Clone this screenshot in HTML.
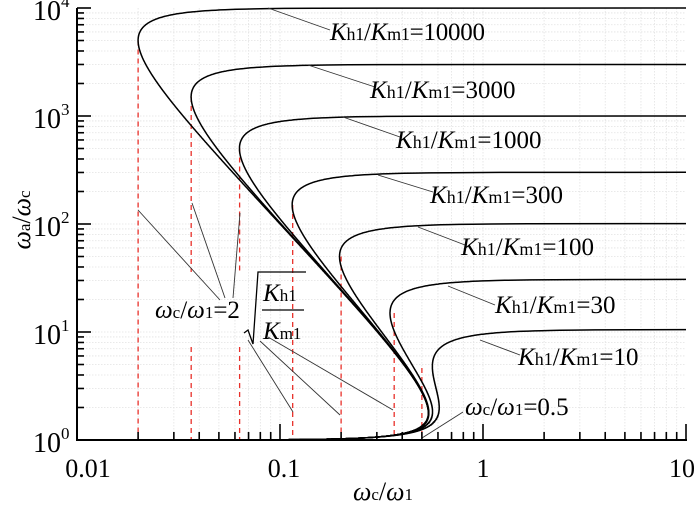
<!DOCTYPE html>
<html><head><meta charset="utf-8">
<style>
html,body{margin:0;padding:0;background:#fff;}
svg{display:block;}
text{font-family:"Liberation Serif",serif;fill:#000;}
</style></head>
<body>
<svg id="s" width="700" height="505" viewBox="0 0 700 505" xmlns="http://www.w3.org/2000/svg">
<g id="grid" stroke="#e2e2e2" stroke-width="0.8" stroke-dasharray="1.5,1.5"></g>
<g id="dash" stroke="#e8302a" stroke-width="1.3" stroke-dasharray="5,4" fill="none"></g>
<g id="curves" stroke="#000" stroke-width="1.5" fill="none"></g>
<g id="lead" stroke="#333" stroke-width="0.9">
<line x1="268" y1="8" x2="330" y2="30"/>
<line x1="308" y1="65" x2="375" y2="87"/>
<line x1="343" y1="117" x2="400" y2="137"/>
<line x1="378" y1="175" x2="433" y2="192"/>
<line x1="418" y1="227" x2="465" y2="245"/>
<line x1="448" y1="286" x2="495" y2="305"/>
<line x1="480" y1="340" x2="520" y2="355"/>
<line x1="422" y1="438" x2="463" y2="412"/>
<line x1="138" y1="210" x2="220" y2="300"/>
<line x1="192" y1="203" x2="225" y2="298"/>
<line x1="240" y1="213" x2="233" y2="298"/>
<line x1="248" y1="340" x2="293" y2="412"/>
<line x1="260" y1="341" x2="340" y2="415"/>
<line x1="268" y1="337" x2="393" y2="410"/>
</g>
<g id="axes" stroke="#000" stroke-width="2" fill="none"></g>
<g font-size="25">
<text x="330" y="40" textLength="155"><tspan font-style="italic">K</tspan><tspan font-size="18">h1</tspan>/<tspan font-style="italic">K</tspan><tspan font-size="18">m1</tspan>=10000</text>
<text x="370" y="98"><tspan font-style="italic">K</tspan><tspan font-size="18">h1</tspan>/<tspan font-style="italic">K</tspan><tspan font-size="18">m1</tspan>=3000</text>
<text x="396" y="148"><tspan font-style="italic">K</tspan><tspan font-size="18">h1</tspan>/<tspan font-style="italic">K</tspan><tspan font-size="18">m1</tspan>=1000</text>
<text x="430" y="203"><tspan font-style="italic">K</tspan><tspan font-size="18">h1</tspan>/<tspan font-style="italic">K</tspan><tspan font-size="18">m1</tspan>=300</text>
<text x="461" y="255"><tspan font-style="italic">K</tspan><tspan font-size="18">h1</tspan>/<tspan font-style="italic">K</tspan><tspan font-size="18">m1</tspan>=100</text>
<text x="495" y="313"><tspan font-style="italic">K</tspan><tspan font-size="18">h1</tspan>/<tspan font-style="italic">K</tspan><tspan font-size="18">m1</tspan>=30</text>
<text x="518" y="365"><tspan font-style="italic">K</tspan><tspan font-size="18">h1</tspan>/<tspan font-style="italic">K</tspan><tspan font-size="18">m1</tspan>=10</text>
<text x="465" y="415"><tspan font-style="italic">ω</tspan><tspan font-size="17">c</tspan>/<tspan font-style="italic">ω</tspan><tspan font-size="17">1</tspan>=0.5</text>
<text x="155" y="318"><tspan font-style="italic">ω</tspan><tspan font-size="17">c</tspan>/<tspan font-style="italic">ω</tspan><tspan font-size="17">1</tspan>=2</text>
<text x="263" y="301"><tspan font-style="italic">K</tspan><tspan font-size="17">h1</tspan></text>
<text x="263" y="339"><tspan font-style="italic">K</tspan><tspan font-size="17">m1</tspan></text>
</g>
<polyline points="244,333 248,330 253,344 258,272 306,272" stroke="#000" stroke-width="1.3" fill="none"/>
<line x1="262" y1="310" x2="304" y2="310" stroke="#000" stroke-width="1.2"/>
<g font-size="26" text-anchor="middle">
<text x="88" y="477">0.01</text>
<text x="284" y="477">0.1</text>
<text x="483" y="477">1</text>
<text x="682" y="477">10</text>
<text x="383" y="500"><tspan font-style="italic">ω</tspan><tspan font-size="17">c</tspan>/<tspan font-style="italic">ω</tspan><tspan font-size="17">1</tspan></text>
</g>
<g font-size="28" id="ylab"></g>
<text transform="translate(30,220) rotate(-90)" font-size="26" text-anchor="middle"><tspan font-style="italic">ω</tspan><tspan font-size="17">a</tspan>/<tspan font-style="italic">ω</tspan><tspan font-size="17">c</tspan></text>
</svg>
<script>
var NS="http://www.w3.org/2000/svg";
var X0=77,D=203,Y0=440,DY=108;
function px(x){return X0+D*(Math.log10(x)+2);}
function py(y){return Y0-DY*Math.log10(y);}
function el(g,t,a){var e=document.createElementNS(NS,t);for(var k in a)e.setAttribute(k,a[k]);document.getElementById(g).appendChild(e);return e;}
for(var d=-2;d<1;d++)for(var m=1;m<10;m++){var x=px(m*Math.pow(10,d));el("grid","line",{x1:x,y1:8,x2:x,y2:440});}
for(var d=0;d<4;d++)for(var m=1;m<10;m++){var y=py(m*Math.pow(10,d));el("grid","line",{x1:77,y1:y,x2:686,y2:y});}
el("axes","path",{d:"M77,8 L77,440 L687,440"});
for(var d=-2;d<=1;d++)for(var m=1;m<10;m++){if(d==1&&m>1)break;var x=px(m*Math.pow(10,d));var L=(m==1)?16:8;el("axes","line",{x1:x,y1:440,x2:x,y2:440-L,"stroke-width":1.6});}
for(var d=0;d<=4;d++)for(var m=1;m<10;m++){if(d==4&&m>1)break;var y=py(m*Math.pow(10,d));var L=(m==1)?14:7;el("axes","line",{x1:77,y1:y,x2:77+L,y2:y,"stroke-width":1.6});}
for(var d=0;d<=4;d++){var t=el("ylab","text",{x:33,y:py(Math.pow(10,d))+12});t.innerHTML='10<tspan font-size="17" dy="-13">'+d+'</tspan>';}
var Rs=[10,30,100,300,1000,3000,10000];
function bR(R){return R<=10?0.5:(R<=30?0.7:0.9);}
var c=0.6;
function g(y,R){return (R-y)*y/R + c/(y-1) + bR(R);}
Rs.forEach(function(R){
 var pts=[],prev=null;
 for(var s=-4;s<Math.log10(R*1.5);s+=0.002){
  var y=1+Math.pow(10,s);var gv=g(y,R);
  if(gv<0.01){var lo=prev,hi=y;for(var i=0;i<50;i++){var mid=(lo+hi)/2;if(g(mid,R)>0.01)lo=mid;else hi=mid;}pts.push([px(10),py(lo)]);break;}
  var x=1/Math.sqrt(gv);prev=y;
  if(x<0.01)continue;
  pts.push([px(x),py(y)]);
 }
 el("curves","polyline",{points:pts.map(function(p){return p[0].toFixed(1)+","+p[1].toFixed(1);}).join(" ")});
 if(R==10)return;
 var xt=px(2/Math.sqrt(R)),yt=py(R/2);
 if(R==3000||R==1000){el("dash","line",{x1:xt,y1:yt,x2:xt,y2:272});el("dash","line",{x1:xt,y1:347,x2:xt,y2:440});}
 else el("dash","line",{x1:xt,y1:yt,x2:xt,y2:440});
});
el("dash","line",{x1:px(0.5),y1:368,x2:px(0.5),y2:440});
</script>
</body></html>
